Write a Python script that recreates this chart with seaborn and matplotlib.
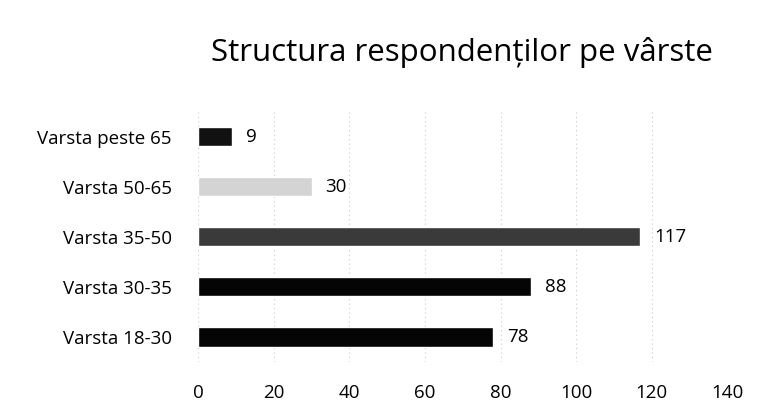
import matplotlib
matplotlib.use("Agg")
import matplotlib.pyplot as plt
import seaborn as sns
import pandas as pd

# date grafic
categorii = ['Varsta peste 65', 'Varsta 50-65', 'Varsta 35-50', 'Varsta 30-35', 'Varsta 18-30']
valori = [9, 30, 117, 88, 78]
culori = ['#111111', '#d4d4d4', '#3a3a3a', '#050505', '#050505']
ticks_x = [0, 20, 40, 60, 80, 100, 120, 140]

sns.set_style('white')
plt.rcParams['font.family'] = ['Open Sans', 'DejaVu Sans']
plt.rcParams['text.color'] = 'black'

df = pd.DataFrame({'Categorie': categorii, 'Numar': valori})

fig = plt.figure(figsize=(7.63, 4.19), dpi=100)
ax = fig.add_axes([0.26, 0.136, 0.693, 0.597])

sns.barplot(data=df, x='Numar', y='Categorie', hue='Categorie', palette=culori,
            legend=False, width=0.38, ax=ax, order=categorii)

for c in ax.containers:
    ax.bar_label(c, padding=10, fontsize=13.5, color='black')

ax.set_xlim(0, 140)
ax.set_xticks(ticks_x)
ax.set_xticklabels([str(t) for t in ticks_x], fontsize=13.5)
ax.tick_params(axis='y', labelsize=13.5, length=0, pad=19, labelcolor='black')
ax.tick_params(axis='x', length=0, pad=16, labelcolor='black')
ax.set_xlabel('')
ax.set_ylabel('')
ax.grid(axis='x', color='#c8c8c8', linestyle=(0, (1, 3)), linewidth=0.8)
ax.set_axisbelow(True)
sns.despine(ax=ax, left=True, bottom=True)

fig.text(0.606, 0.875, 'Structura respondenților pe vârste', ha='center', va='center',
         fontsize=22.5, color='black')

plt.savefig('out.png', dpi=100)
